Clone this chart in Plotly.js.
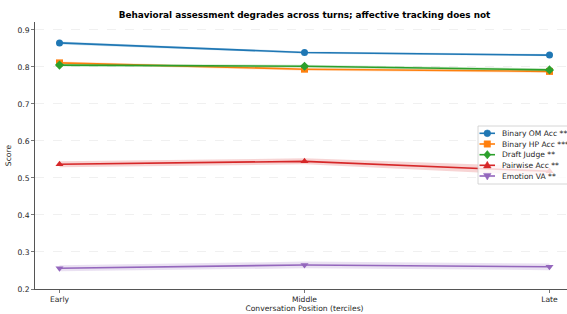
<!DOCTYPE html>
<html>
<head>
<meta charset="utf-8">
<script src="https://cdn.plot.ly/plotly-3.0.1.min.js"></script>
<style>
html,body{margin:0;padding:0;overflow:hidden;background:#fff;}
#chart{width:580px;height:314px;}
</style>
</head>
<body>
<div id="chart"></div>
<script>
var positions = ["Early", "Middle", "Late"];
var seriesNames = ["Binary OM Acc ***", "Binary HP Acc ***", "Draft Judge **", "Pairwise Acc **", "Emotion VA **"];
var binaryOM = [0.865, 0.839, 0.832];
var binaryOMLo = [0.861, 0.836, 0.829];
var binaryOMHi = [0.869, 0.842, 0.835];
var binaryHP = [0.811, 0.794, 0.788];
var binaryHPLo = [0.807, 0.790, 0.784];
var binaryHPHi = [0.815, 0.798, 0.792];
var draftJudge = [0.805, 0.802, 0.792];
var draftJudgeLo = [0.801, 0.798, 0.788];
var draftJudgeHi = [0.809, 0.806, 0.796];
var pairwise = [0.537, 0.545, 0.518];
var pairwiseLo = [0.529, 0.537, 0.506];
var pairwiseHi = [0.545, 0.553, 0.530];
var emotionVA = [0.256, 0.265, 0.260];
var emotionVALo = [0.248, 0.256, 0.251];
var emotionVAHi = [0.264, 0.274, 0.269];

var colors = ["#1f77b4", "#ff7f0e", "#2ca02c", "#d62728", "#9467bd"];
var bands = ["rgba(31,119,180,0.2)", "rgba(255,127,14,0.2)", "rgba(44,160,44,0.2)", "rgba(214,39,40,0.2)", "rgba(148,103,189,0.2)"];
var symbols = ["circle", "square", "diamond", "triangle-up", "triangle-down"];
var vals = [binaryOM, binaryHP, draftJudge, pairwise, emotionVA];
var los = [binaryOMLo, binaryHPLo, draftJudgeLo, pairwiseLo, emotionVALo];
var his = [binaryOMHi, binaryHPHi, draftJudgeHi, pairwiseHi, emotionVAHi];

var xIdx = positions.map(function(_, i){ return i; });
var traces = [];
for (var s = 0; s < vals.length; s++) {
  traces.push({x: xIdx, y: los[s], mode: "lines", line: {width: 0}, hoverinfo: "skip", showlegend: false});
  traces.push({x: xIdx, y: his[s], mode: "lines", line: {width: 0}, fill: "tonexty", fillcolor: bands[s], hoverinfo: "skip", showlegend: false});
  traces.push({x: xIdx, y: vals[s], mode: "lines+markers", name: seriesNames[s],
    line: {color: colors[s], width: 1.6},
    marker: {color: colors[s], symbol: symbols[s], size: 7},
    showlegend: false});
}

var W = 580, H = 314, ML = 35, MR = 6, MT = 22, MB = 25;
var PW = W - ML - MR, PH = H - MT - MB;
function px(x){ return (x - ML) / PW; }
function py(y){ return (H - MB - y) / PH; }

var shapes = [];
var annotations = [];
// legend box
shapes.push({type: "rect", xref: "paper", yref: "paper", x0: px(478), x1: px(578), y0: py(184), y1: py(126),
  fillcolor: "rgba(255,255,255,0.8)", line: {color: "#cccccc", width: 0.8}, layer: "above"});
var rowY = [133.3, 144, 154.7, 165.3, 176];
var markerPaths = [
  null,
  null,
  "M0,4.2 L3.5,0 L0,-4.2 L-3.5,0 Z",
  "M0,4 L3.8,-2.6 L-3.8,-2.6 Z",
  "M0,-4 L3.8,2.6 L-3.8,2.6 Z"
];
for (var i = 0; i < seriesNames.length; i++) {
  var yy = py(rowY[i]);
  shapes.push({type: "line", xref: "paper", yref: "paper", x0: px(479.5), x1: px(495), y0: yy, y1: yy,
    line: {color: colors[i], width: 1.6}, layer: "above"});
  var base = {xref: "paper", yref: "paper", xsizemode: "pixel", ysizemode: "pixel", xanchor: px(487.3), yanchor: yy,
    fillcolor: colors[i], line: {color: colors[i], width: 0.5}, layer: "above"};
  var m;
  if (i === 0) { m = Object.assign({type: "circle", x0: -3.4, x1: 3.4, y0: -3.4, y1: 3.4}, base); }
  else if (i === 1) { m = Object.assign({type: "rect", x0: -3.2, x1: 3.2, y0: -3.2, y1: 3.2}, base); }
  else { m = Object.assign({type: "path", path: markerPaths[i]}, base); }
  shapes.push(m);
  annotations.push({xref: "paper", yref: "paper", x: px(499.5), y: yy, xanchor: "left", yanchor: "middle",
    text: seriesNames[i], showarrow: false, font: {family: "DejaVu Sans", size: 7.6, color: "#262626"}});
}

var layout = {
  width: W, height: H,
  margin: {l: ML, r: MR, t: MT, b: MB, pad: 0},
  paper_bgcolor: "#ffffff", plot_bgcolor: "#ffffff",
  font: {family: "DejaVu Sans", size: 7.5, color: "#262626"},
  showlegend: false,
  title: {text: "<b>Behavioral assessment degrades across turns; affective tracking does not</b>",
    x: 0.5, xref: "paper", y: 1 - 14.5 / H, yref: "container", yanchor: "middle",
    font: {family: "DejaVu Sans", size: 8.9, color: "#000000"}},
  xaxis: {range: [-0.1, 2.1], tickvals: xIdx, ticktext: positions, showgrid: false, zeroline: false,
    showline: true, linecolor: "#555555", linewidth: 1, ticks: "outside", ticklen: 3, tickwidth: 0.8, tickcolor: "#555555",
    tickfont: {size: 7.6, color: "#262626"},
    title: {text: "Conversation Position (terciles)", font: {size: 7.6, color: "#262626"}, standoff: 2}},
  yaxis: {range: [0.2, 0.9215], tickvals: [0.2, 0.3, 0.4, 0.5, 0.6, 0.7, 0.8, 0.9], tickformat: ".1f",
    showgrid: true, gridcolor: "#e6e6e6", griddash: "dash", gridwidth: 0.6, zeroline: false,
    showline: true, linecolor: "#555555", linewidth: 1, ticks: "outside", ticklen: 3, tickwidth: 0.8, tickcolor: "#555555",
    tickfont: {size: 7.6, color: "#262626"},
    title: {text: "Score", font: {size: 7.6, color: "#262626"}, standoff: 4}},
  shapes: shapes,
  annotations: annotations
};

Plotly.newPlot("chart", traces, layout, {displayModeBar: false, staticPlot: true});
</script>
</body>
</html>
